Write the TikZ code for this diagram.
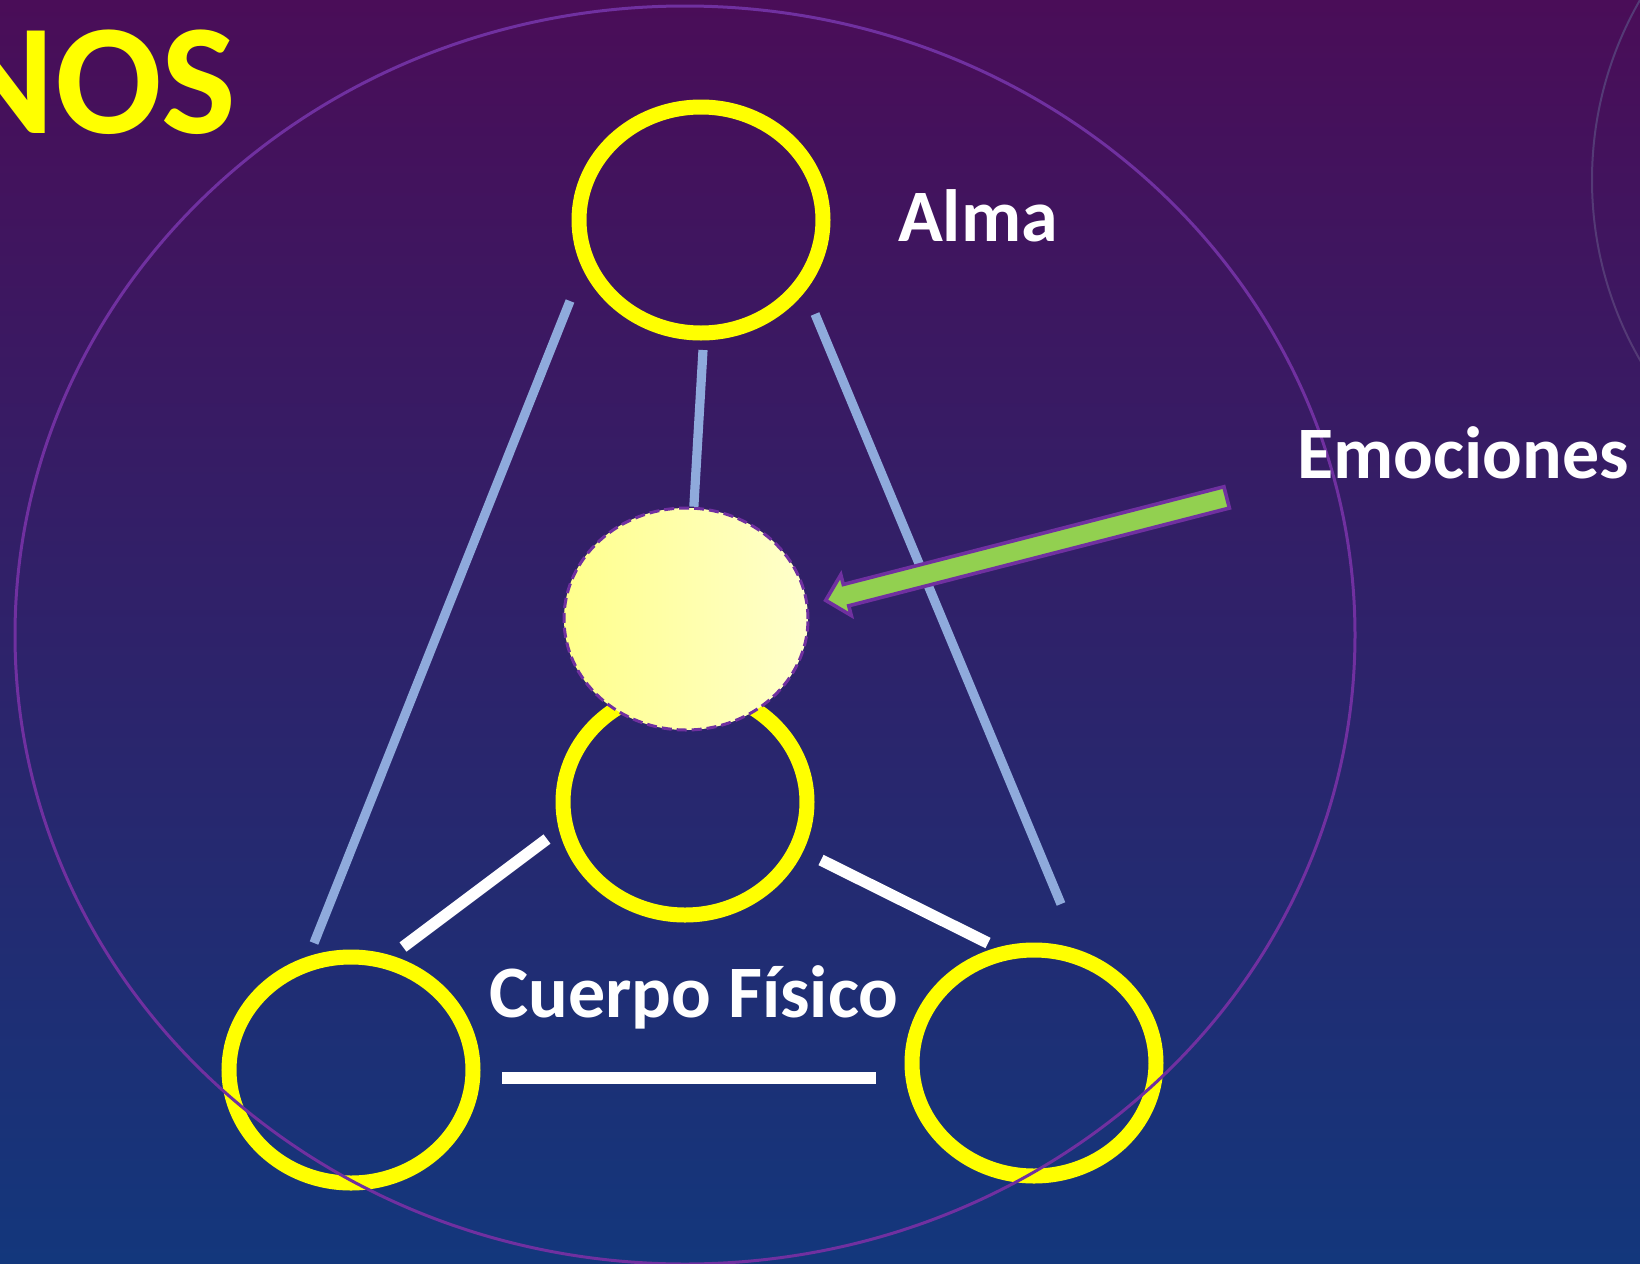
\documentclass[tikz,border=0pt]{standalone}
\usepackage{fontspec}
\setmainfont{Carlito}
\usetikzlibrary{
    positioning,
    shapes.geometric,
    shapes.arrows
}
\definecolor{bgtop}{RGB}{74,13,88}
\definecolor{bgmid}{RGB}{46,36,116}
\definecolor{bgbot}{RGB}{19,55,124}
\definecolor{ringyellow}{RGB}{255,255,0}
\definecolor{linkblue}{RGB}{143,170,220}
\definecolor{halo}{RGB}{112,48,160}
\definecolor{coreA}{RGB}{255,255,140}
\definecolor{coreB}{RGB}{255,255,204}
\definecolor{arrowgreen}{RGB}{146,208,80}
\definecolor{faint}{RGB}{84,58,118}
\tikzset{
    % Yellow ring:
    ring node/.style = {
        ellipse,
        draw = ringyellow,
        line width = 7.5pt,
        minimum width = 122pt,
        minimum height = 113pt
    },
    % Filled core:
    core node/.style = {
        ellipse,
        draw = halo,
        dash pattern = on 5pt off 2.5pt,
        line width = 1.5pt,
        left color = coreA,
        right color = coreB,
        minimum width = 122pt,
        minimum height = 111pt
    },
    % Outer circle:
    halo node/.style = {
        ellipse,
        draw = halo,
        line width = 1.5pt,
        minimum width = 670pt,
        minimum height = 629pt
    },
    % Blue connector:
    link/.style = {
        draw = linkblue,
        line width = 4.6pt
    },
    % White connector:
    bond/.style = {
        draw = white,
        line width = 5.8pt
    },
    % Block arrow:
    pointer/.style = {
        single arrow,
        draw = halo,
        fill = arrowgreen,
        line width = 1.8pt,
        inner sep = 4.6pt,
        single arrow head extend = 5pt,
        minimum height = 207pt
    },
    % White text:
    caption text/.style = {
        text = white,
        inner sep = 0pt,
        font = \fontsize{37}{44}\selectfont\bfseries
    }
}

\begin{document}
\begin{tikzpicture}[x=0.5pt, y=-0.5pt]
    \useasboundingbox (0, 0) rectangle (1640, 1264);
    \clip (0, 0) rectangle (1640, 1264);
    \shade [top color=bgtop, middle color=bgmid, bottom color=bgbot]
        (0, 0) rectangle (1640, 1264);
    % Faint ring cut by the right edge.
    \draw [faint, line width=1pt] (1953, 180) circle [radius=361];
    % Rings.
    \node [ring node] (alma) at (701, 220) {};
    \node [ring node] (cuerpo) at (685, 802) {};
    \node [ring node] (izq) at (351, 1070) {};
    \node [ring node] (der) at (1034, 1063) {};
    \node [core node] (emocion) at (686, 619) {};
    % Connector ends.
    \coordinate (almaL) at (570, 301);
    \coordinate (almaM) at (703, 350);
    \coordinate (almaR) at (815, 314);
    \coordinate (izqT) at (314, 943);
    \coordinate (derT) at (1061, 904);
    \coordinate (cuerpoL) at (547, 839);
    \coordinate (cuerpoR) at (821, 860);
    \coordinate (izqR) at (403, 947);
    \coordinate (derL) at (988, 943);
    \coordinate (baseL) at (502, 1078);
    \coordinate (baseR) at (876, 1078);
    \draw [link] (almaL) -- (izqT);
    \draw [link] (almaR) -- (derT);
    \draw [link] (almaM) -- (emocion.86);
    \draw [bond] (cuerpoL) -- (izqR);
    \draw [bond] (cuerpoR) -- (derL);
    \draw [bond] (baseL) -- (baseR);
    % Arrow towards the core.
    \node [pointer, rotate=194.4] (arrow) at (1031.5, 547.5) {};
    \node [halo node] (whole) at (685, 635) {};
    % Labels.
    \node [caption text, anchor=base] (almalabel) at (978, 241) {Alma};
    \node [caption text, anchor=base west] (emolabel) at (1297, 478) {Emociones};
    \node [caption text, anchor=base] (cuerpolabel) at (694, 1017) {Cuerpo Físico};
    \node [caption text, text=ringyellow, anchor=base east,
        font=\fontsize{79}{90}\selectfont\bfseries] (title) at (237, 133) {NOS};
\end{tikzpicture}
\end{document}
